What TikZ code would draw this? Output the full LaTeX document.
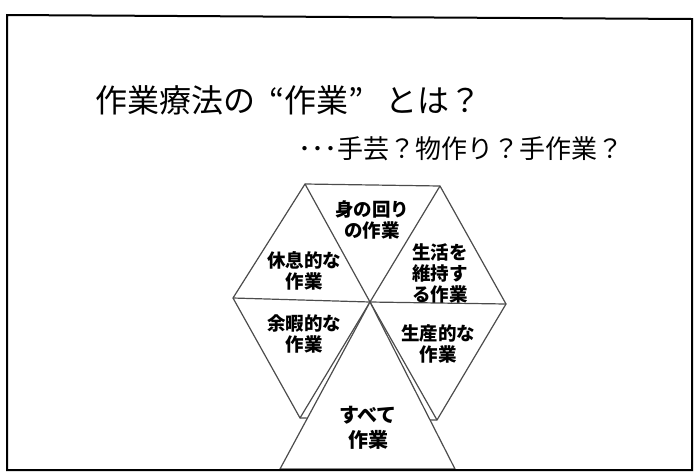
\documentclass[tikz,border=0pt]{standalone}
\usepackage{fontspec}
\newfontfamily\cjk{Noto Sans CJK JP}
\begin{document}
\begin{tikzpicture}[x=1pt,y=-1pt,
	every node/.style={font=\cjk,inner sep=0pt},
	cell/.style={align=center,font=\cjk\bfseries\fontsize{18.5}{21}\selectfont},
	edgeline/.style={draw=black!70,line width=1.2pt}]
	\useasboundingbox (0,0) rectangle (694,475);

	\coordinate (c) at (370,302);
	\coordinate (tl) at (305,184);
	\coordinate (tr) at (440,186);
	\coordinate (r) at (506,304);
	\coordinate (br) at (437,420);
	\coordinate (bl) at (300,418);
	\coordinate (l) at (233,298);
	\coordinate (sl) at (280,469);
	\coordinate (sr) at (455,469);

	\draw[edgeline] (tl) -- (tr) -- (r) -- (br) -- (bl) -- (l) -- cycle;
	\foreach \v in {tl,tr,r,br,bl,l}
		\draw[edgeline] (c) -- (\v);
	\filldraw[edgeline,fill=white] (c) -- (sr) -- (sl) -- cycle;

	\node[anchor=west,font=\cjk\fontsize{32}{38}\selectfont] (title) at (95,100) {作業療法の\hspace{14pt}“作業”\hspace{22pt}とは？};
	\node[anchor=east,font=\cjk\fontsize{26}{30}\selectfont] (sub) at (624,149) {･･･手芸？物作り？手作業？};

	\node[cell] (mawari) at (372,220) {身の回り\\の作業};
	\node[cell] (kyusoku) at (304,271) {休息的な\\作業};
	\node[cell] (iji) at (440,273) {生活を\\維持す\\る作業};
	\node[cell] (yoka) at (304,334) {余暇的な\\作業};
	\node[cell] (seisan) at (438,344) {生産的な\\作業};
	\node[cell,font=\cjk\bfseries\fontsize{20}{25}\selectfont] (subete) at (368,428) {すべて\\作業};

	\draw[line width=2pt] (7,15) -- (692,19) -- (692,470) -- (7,470) -- cycle;
\end{tikzpicture}
\end{document}
